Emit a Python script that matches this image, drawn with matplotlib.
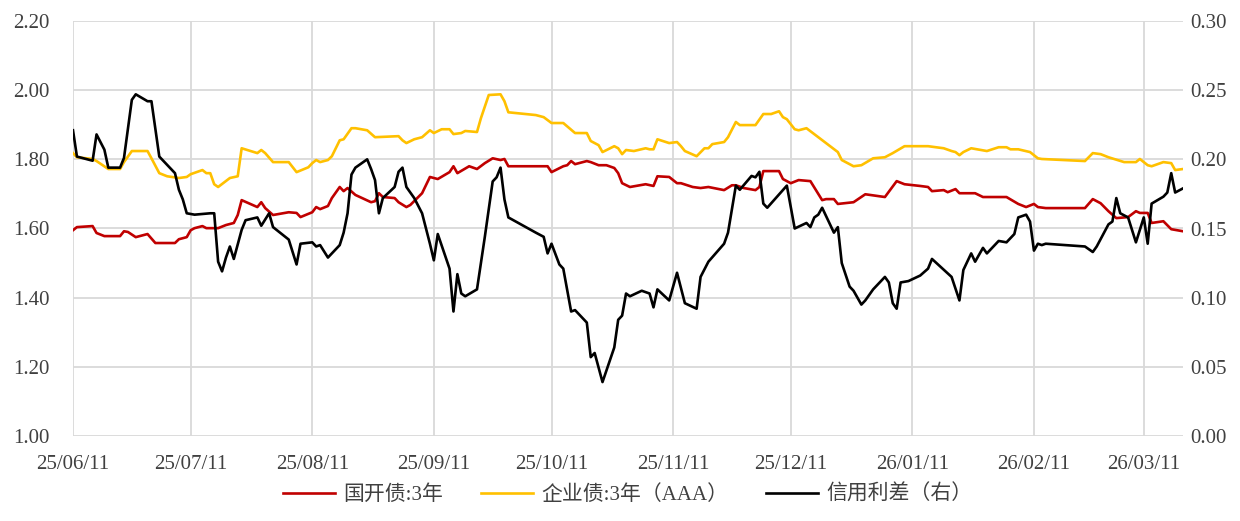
import matplotlib
matplotlib.use('Agg')
import matplotlib.pyplot as plt
import matplotlib.dates as mdates
import pandas as pd

plt.rcParams['font.family'] = ['Liberation Serif', 'Noto Sans CJK SC']
plt.rcParams['axes.unicode_minus'] = False

start = pd.Timestamp('2025-06-11')

# 国开债:3年 (left axis) -- days counted from 2025-06-11
cdb_day = [0, 1, 5, 6, 8, 12, 13, 14, 16, 19, 21, 26, 27, 29, 30, 31, 33, 34, 37, 39,
           41, 42, 43, 47, 48, 49, 51, 55, 57, 58, 61, 62, 63, 65, 66, 68, 69, 70, 72, 76,
           77, 78, 79, 82, 83, 85, 86, 89, 91, 93, 96, 97, 98, 101, 103, 105, 107, 109, 110, 111,
           121, 122, 125, 126, 127, 128, 131, 132, 134, 136, 138, 139, 140, 142, 146, 148, 149, 152, 154, 155,
           158, 160, 162, 166, 168, 169, 171, 174, 175, 176, 180, 181, 183, 185, 188, 191, 192, 194, 195, 199,
           202, 207, 210, 212, 216, 218, 219, 222, 223, 225, 226, 230, 232, 238, 241, 243, 245, 246, 248, 258,
           260, 262, 264, 266, 269, 271, 272, 274, 275, 278, 280, 283]
cdb_3y = [1.595, 1.604, 1.607, 1.587, 1.578, 1.578, 1.592, 1.590, 1.575, 1.584, 1.558, 1.558, 1.569, 1.575, 1.595, 1.601, 1.607, 1.601, 1.601, 1.610,
          1.616, 1.639, 1.682, 1.662, 1.676, 1.659, 1.639, 1.647, 1.645, 1.633, 1.647, 1.662, 1.656, 1.665, 1.688, 1.720, 1.708, 1.717, 1.697, 1.676,
          1.679, 1.702, 1.691, 1.688, 1.676, 1.662, 1.668, 1.702, 1.749, 1.743, 1.763, 1.780, 1.760, 1.780, 1.772, 1.789, 1.803, 1.798, 1.801, 1.780,
          1.780, 1.763, 1.780, 1.783, 1.795, 1.786, 1.795, 1.792, 1.783, 1.783, 1.775, 1.760, 1.731, 1.720, 1.728, 1.723, 1.751, 1.749, 1.731, 1.731,
          1.720, 1.717, 1.720, 1.711, 1.725, 1.725, 1.717, 1.711, 1.720, 1.766, 1.766, 1.743, 1.731, 1.740, 1.737, 1.682, 1.685, 1.685, 1.671, 1.676,
          1.699, 1.691, 1.737, 1.728, 1.723, 1.720, 1.708, 1.711, 1.705, 1.714, 1.702, 1.702, 1.691, 1.691, 1.671, 1.662, 1.671, 1.662, 1.659, 1.659,
          1.685, 1.673, 1.650, 1.630, 1.633, 1.650, 1.645, 1.645, 1.616, 1.621, 1.598, 1.592]

# 企业债:3年(AAA) (left axis)
corp_day = [0, 1, 5, 6, 9, 12, 13, 15, 19, 20, 22, 24, 27, 29, 30, 33, 34, 35, 36, 37,
            40, 42, 43, 47, 48, 49, 51, 55, 57, 60, 61, 62, 63, 65, 66, 68, 69, 71, 72, 75,
            77, 83, 84, 85, 87, 89, 91, 92, 94, 96, 97, 99, 100, 103, 104, 106, 109, 110, 111, 118,
            120, 122, 125, 128, 131, 132, 134, 135, 138, 139, 140, 141, 143, 146, 147, 148, 149, 152, 154, 155,
            156, 159, 161, 162, 163, 166, 167, 169, 170, 174, 176, 178, 180, 181, 182, 184, 185, 187, 192, 195,
            196, 199, 201, 204, 207, 209, 212, 218, 222, 224, 225, 226, 227, 229, 233, 236, 238, 239, 241, 244,
            246, 247, 258, 260, 262, 264, 268, 271, 272, 274, 275, 278, 280, 281, 283]
corp_3y = [1.818, 1.806, 1.801, 1.795, 1.772, 1.772, 1.792, 1.824, 1.824, 1.803, 1.760, 1.751, 1.746, 1.749, 1.757, 1.769, 1.760, 1.760, 1.728, 1.720,
           1.746, 1.751, 1.832, 1.818, 1.827, 1.818, 1.792, 1.792, 1.763, 1.777, 1.789, 1.798, 1.792, 1.798, 1.809, 1.855, 1.858, 1.890, 1.890, 1.884,
           1.864, 1.867, 1.855, 1.847, 1.858, 1.864, 1.884, 1.876, 1.887, 1.887, 1.873, 1.876, 1.882, 1.879, 1.919, 1.986, 1.988, 1.968, 1.936, 1.928,
           1.922, 1.905, 1.905, 1.876, 1.876, 1.853, 1.841, 1.821, 1.838, 1.832, 1.815, 1.827, 1.824, 1.832, 1.829, 1.829, 1.858, 1.847, 1.850, 1.838,
           1.824, 1.809, 1.832, 1.832, 1.844, 1.850, 1.864, 1.908, 1.899, 1.899, 1.931, 1.931, 1.939, 1.922, 1.916, 1.887, 1.884, 1.890, 1.847, 1.821,
           1.798, 1.780, 1.783, 1.803, 1.806, 1.818, 1.838, 1.838, 1.832, 1.824, 1.821, 1.812, 1.821, 1.832, 1.824, 1.835, 1.835, 1.829, 1.829, 1.821,
           1.803, 1.801, 1.795, 1.818, 1.815, 1.806, 1.792, 1.792, 1.801, 1.783, 1.780, 1.792, 1.789, 1.769, 1.772]

# 信用利差 (right axis)
spread_day = [0, 1, 5, 6, 8, 9, 12, 13, 15, 16, 19, 20, 22, 26, 27, 28, 29, 31, 35, 36,
              37, 38, 39, 40, 41, 43, 44, 47, 48, 50, 51, 55, 57, 58, 61, 62, 63, 65, 68, 69,
              70, 71, 72, 75, 76, 77, 78, 79, 82, 83, 84, 85, 87, 89, 91, 92, 93, 96, 97, 98,
              99, 100, 103, 105, 107, 108, 109, 110, 111, 118, 120, 121, 122, 124, 125, 127, 128, 131, 132, 133,
              135, 138, 139, 140, 141, 142, 145, 147, 148, 149, 152, 154, 156, 159, 160, 162, 166, 167, 169, 170,
              173, 174, 175, 176, 177, 182, 184, 187, 188, 189, 190, 191, 194, 195, 196, 198, 199, 201, 202, 204,
              207, 208, 209, 210, 211, 213, 216, 218, 219, 224, 226, 227, 229, 230, 232, 233, 236, 238, 240, 241,
              243, 244, 245, 246, 247, 248, 258, 260, 261, 264, 265, 266, 267, 269, 271, 273, 274, 275, 278, 279,
              280, 281, 283]
spread = [0.221, 0.202, 0.199, 0.218, 0.207, 0.194, 0.194, 0.201, 0.243, 0.247, 0.242, 0.242, 0.202, 0.190, 0.178, 0.171, 0.161, 0.160, 0.161, 0.161,
          0.126, 0.119, 0.129, 0.137, 0.128, 0.149, 0.156, 0.158, 0.152, 0.161, 0.151, 0.142, 0.124, 0.139, 0.140, 0.137, 0.138, 0.129, 0.138, 0.147,
          0.161, 0.189, 0.194, 0.200, 0.193, 0.185, 0.161, 0.172, 0.180, 0.191, 0.194, 0.180, 0.172, 0.161, 0.139, 0.127, 0.146, 0.121, 0.090, 0.117,
          0.103, 0.101, 0.106, 0.144, 0.184, 0.187, 0.194, 0.171, 0.158, 0.147, 0.144, 0.132, 0.139, 0.124, 0.121, 0.090, 0.091, 0.082, 0.057, 0.060,
          0.039, 0.064, 0.084, 0.087, 0.103, 0.101, 0.105, 0.103, 0.093, 0.106, 0.098, 0.118, 0.096, 0.092, 0.115, 0.126, 0.139, 0.147, 0.181, 0.178,
          0.188, 0.187, 0.191, 0.168, 0.165, 0.181, 0.150, 0.154, 0.151, 0.158, 0.160, 0.165, 0.147, 0.151, 0.125, 0.108, 0.105, 0.095, 0.098, 0.106,
          0.115, 0.111, 0.096, 0.092, 0.111, 0.112, 0.116, 0.121, 0.128, 0.115, 0.098, 0.120, 0.132, 0.126, 0.136, 0.132, 0.141, 0.140, 0.146, 0.158,
          0.160, 0.155, 0.134, 0.139, 0.138, 0.139, 0.137, 0.133, 0.137, 0.153, 0.155, 0.172, 0.161, 0.158, 0.140, 0.158, 0.139, 0.168, 0.173, 0.176,
          0.190, 0.176, 0.179]

# ticks on the 11th of every month
tick_dates = pd.date_range('2025-06-01', '2026-03-01', freq='MS') + pd.Timedelta(days=10)


def to_dates(days):
    return start + pd.to_timedelta(days, unit='D')


fig = plt.figure(figsize=(12.4, 5.21), dpi=100)
ax = fig.add_axes([73 / 1240, 1 - 436 / 521, 1110 / 1240, 415 / 521])
ax2 = ax.twinx()

grid_c = '#D9D9D9'
text_c = '#404040'

l1, = ax.plot(to_dates(cdb_day), cdb_3y, color='#C00000', lw=1.9, label='国开债:3年')
l2, = ax.plot(to_dates(corp_day), corp_3y, color='#FFC000', lw=1.9, label='企业债:3年（AAA）')
l3, = ax2.plot(to_dates(spread_day), spread, color='black', lw=1.9, label='信用利差（右）')

ax.set_xlim(start, start + pd.Timedelta(days=283))
ax.set_ylim(1.0, 2.2)
ax2.set_ylim(0.0, 0.3)
ax.set_yticks([1.0 + 0.2 * i for i in range(7)])
ax2.set_yticks([0.05 * i for i in range(7)])
ax.yaxis.set_major_formatter(matplotlib.ticker.FormatStrFormatter('%.2f'))
ax2.yaxis.set_major_formatter(matplotlib.ticker.FormatStrFormatter('%.2f'))
ax.set_xticks(tick_dates)
ax.xaxis.set_major_formatter(mdates.DateFormatter('%y/%m/%d'))

ax.grid(True, color=grid_c, lw=1.3)
ax.set_axisbelow(True)
for a in (ax, ax2):
    for s in a.spines.values():
        s.set_visible(False)
ax.tick_params(axis='both', length=0, labelsize=15, colors=text_c)
ax.tick_params(axis='y', pad=17)
ax.tick_params(axis='x', pad=14)
ax2.tick_params(axis='y', length=0, labelsize=15, colors=text_c, pad=5)

fig.legend(handles=[l1, l2, l3], loc='center', bbox_to_anchor=(0.506, 0.05), ncol=3,
           frameon=False, fontsize=15, handlelength=2.5, handletextpad=0.4,
           columnspacing=1.8, labelcolor=text_c)

fig.savefig('out.png', dpi=100)
